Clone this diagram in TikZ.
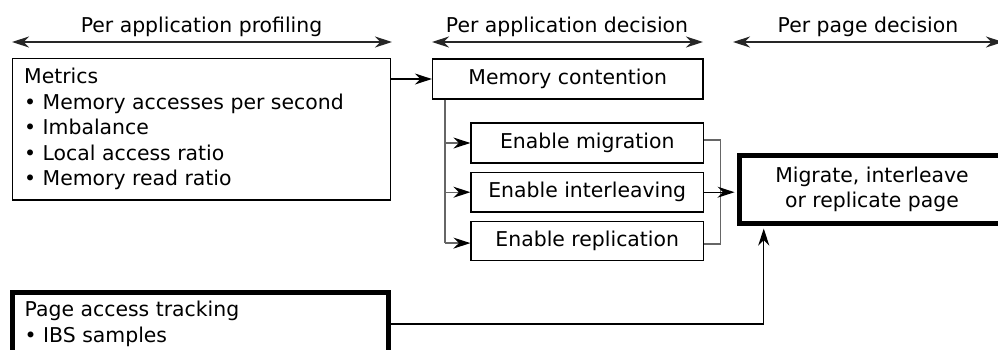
\documentclass[tikz,border=0pt]{standalone}
\usepackage{fontspec}
\setmainfont{DejaVu Sans}
\usetikzlibrary{arrows.meta}
\begin{document}
\begin{tikzpicture}[x=1pt,y=-1pt,
  lbl/.style={font=\fontsize{20.4}{25.5}\selectfont, inner sep=0pt},
  thinbox/.style={draw=black, line width=1.2pt, inner sep=0pt, font=\fontsize{20.4}{25.5}\selectfont, align=center},
  thickbox/.style={draw=black, line width=5pt, inner sep=0pt, font=\fontsize{20.4}{25.5}\selectfont, align=center},
  tip/.style={-{Stealth[length=17pt,width=11pt,inset=5.5pt,black]}, line width=1.2pt},
  span/.style={{Stealth[length=17pt,width=11pt,inset=5.5pt]}-{Stealth[length=17pt,width=11pt,inset=5.5pt]}, line width=1.3pt, draw=black!85},
  bus/.style={draw=black!60, line width=1.3pt},
  bustip/.style={-{Stealth[length=17pt,width=11pt,inset=5.5pt,black]}},
]
\useasboundingbox (0,0) rectangle (998,349);

% top spans
\node[lbl, anchor=base] (t1) at (201.5,32) {Per application profiling};
\node[lbl, anchor=base] (t2) at (567,32) {Per application decision};
\node[lbl, anchor=base] (t3) at (868,32) {Per page decision};
\coordinate (s1a) at (12,42);  \coordinate (s1b) at (392,42);
\coordinate (s2a) at (432,42); \coordinate (s2b) at (703,42);
\coordinate (s3a) at (733,42); \coordinate (s3b) at (1003,42);
\draw[span] (s1a) -- (s1b);
\draw[span] (s2a) -- (s2b);
\draw[span] (s3a) -- (s3b);

% metrics box
\node[thinbox, minimum width=378pt, minimum height=141.5pt] (metrics) at (201.5,129.25) {};
\node[lbl, anchor=base west] (m0) at (24,83) {Metrics};
\node[lbl, anchor=base west] (m1) at (24,109) {• Memory accesses per second};
\node[lbl, anchor=base west] (m2) at (24,134.5) {• Imbalance};
\node[lbl, anchor=base west] (m3) at (24,160) {• Local access ratio};
\node[lbl, anchor=base west] (m4) at (24,185.5) {• Memory read ratio};

% decision boxes
\node[thinbox, minimum width=270.5pt, minimum height=40pt] (mc) at (567.75,79) {Memory contention};
\node[thinbox, minimum width=232.5pt, minimum height=40pt] (mig) at (587.25,143) {Enable migration};
\node[thinbox, minimum width=232.5pt, minimum height=39.5pt] (int) at (587.25,192.2) {Enable interleaving};
\node[thinbox, minimum width=232.5pt, minimum height=39pt] (rep) at (587.25,240.6) {Enable replication};

% page decision box
\node[thickbox, minimum width=265pt, minimum height=68pt] (mp) at (872,189.5) {Migrate, interleave\\or replicate page};

% page access tracking box
\node[thickbox, minimum width=376pt, minimum height=68pt] (pa) at (200.5,326) {};
\node[lbl, anchor=base west] (p0) at (24.5,316) {Page access tracking};
\node[lbl, anchor=base west] (p1) at (24.5,342.5) {• IBS samples};

% connectors
\draw[tip] (metrics.east |- mc.west) -- (mc.west);
\coordinate (b0) at ([xshift=13.2pt]mc.south west);
\draw[bus] (b0) -- (b0 |- rep.west) -- ++(0,2.5);
\draw[bus, bustip] (b0 |- mig.west) -- (mig.west);
\draw[bus, bustip] (b0 |- int.west) -- (int.west);
\draw[bus, bustip] ([yshift=-2.5pt]b0 |- rep.west) -- ([yshift=-2.5pt]rep.west);
\draw[bus] ([yshift=3pt]mig.east) -- ++(16.5,0) |- ([yshift=-3.5pt]rep.east);
\draw[tip, shorten >=2.5pt] (int.east) -- (int.east -| mp.west);
\coordinate (pin) at ([xshift=26.75pt]mp.south west);
\draw[tip, shorten >=2.5pt] (pa.east |- 0,324) -| (pin);
\end{tikzpicture}
\end{document}
